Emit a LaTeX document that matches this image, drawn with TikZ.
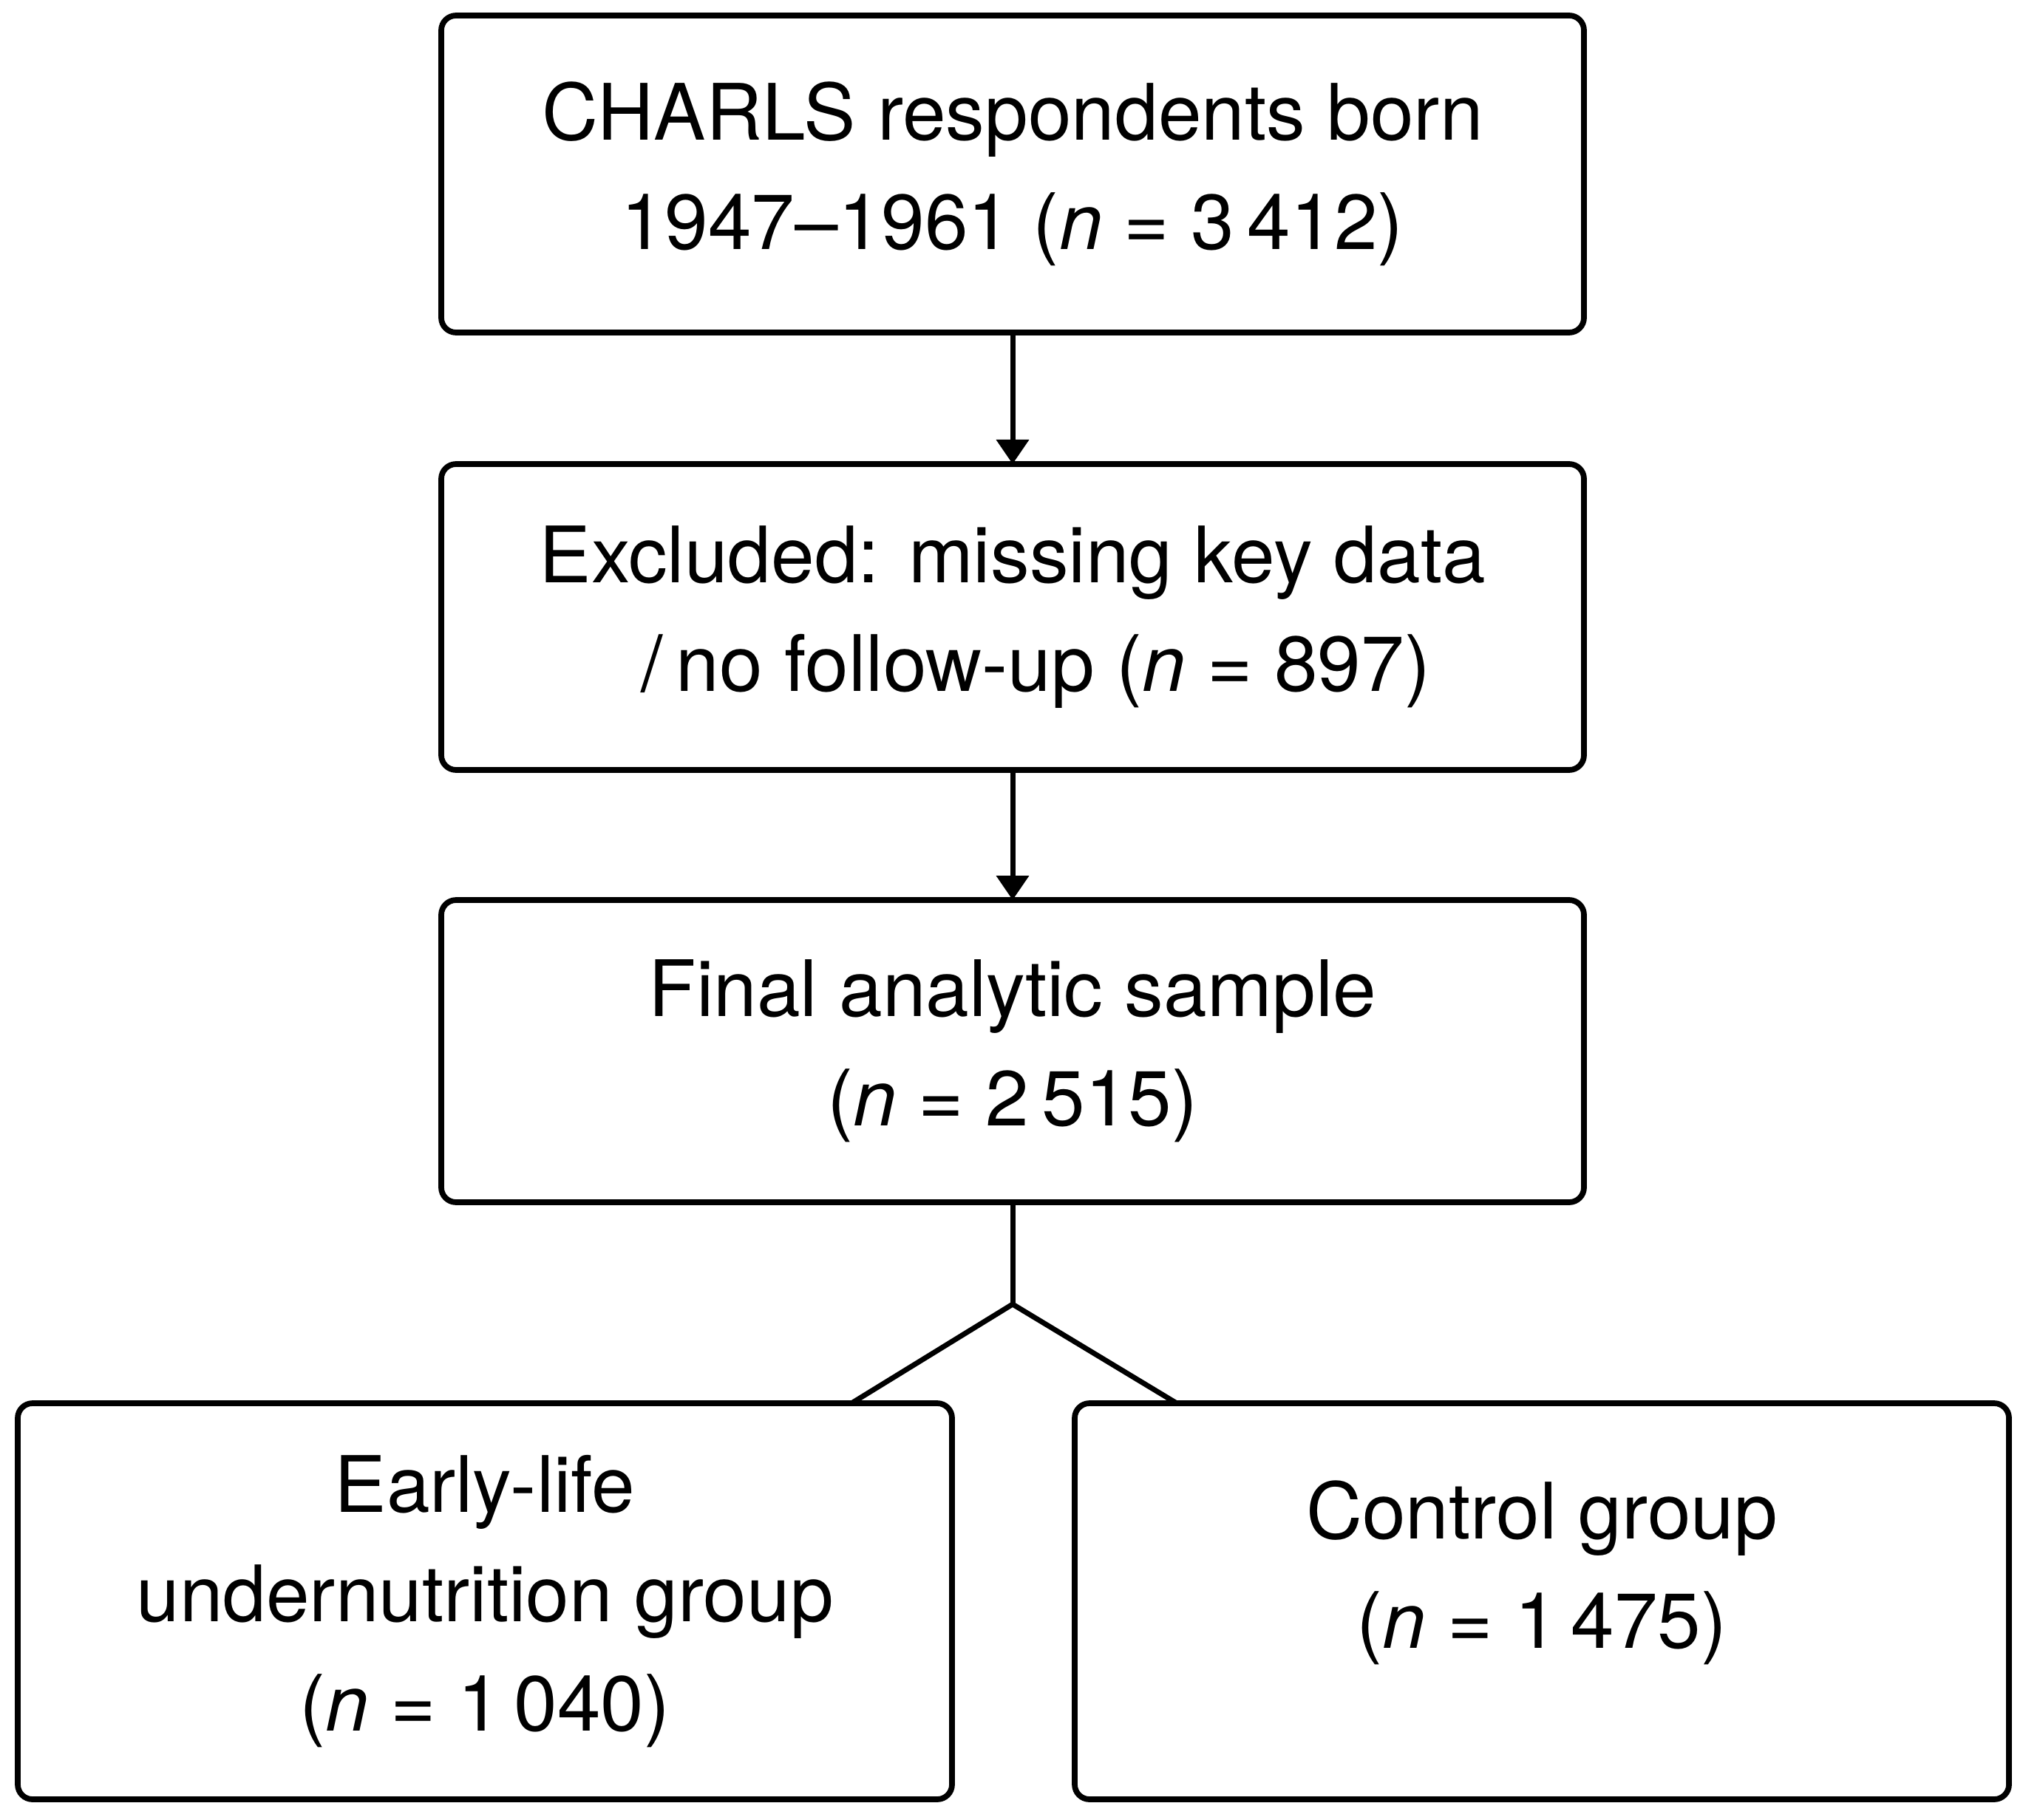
\documentclass[tikz,border=0pt]{standalone}
\usepackage{fontspec}
\setmainfont{TeX Gyre Heros}
\usetikzlibrary{arrows.meta}

\begin{document}
\begin{tikzpicture}[
        box/.style={draw,line width=2.2pt,rounded corners=0.2cm,inner sep=0pt,outer sep=0pt,
            minimum width=15.46cm,align=center,font=\fontsize{30}{42}\selectfont},
        smallbox/.style={box,minimum width=12.64cm,minimum height=5.36cm},
        arr/.style={line width=2pt,-{Triangle[width=0.43cm,length=0.33cm]}},
        link/.style={line width=2pt,line join=round}]
        \useasboundingbox (0,0) rectangle (27.37,-24.63);
        \node[box,minimum height=4.29cm] (charls) at (13.70,-2.355) {CHARLS respondents born\\1947--1961 (\textit{n} = 3\,412)};
        \node[box,minimum height=4.14cm] (excl) at (13.70,-8.35) {Excluded: missing key data\\\hspace*{0.6em}/\,no follow-up (\textit{n} = 897)};
        \node[box,minimum height=4.09cm] (final) at (13.70,-14.225) {Final analytic sample\\(\textit{n} = 2\,515)};
        \node[smallbox] (early) at (6.56,-21.67) {Early-life\\undernutrition group\\(\textit{n} = 1\,040)};
        \node[smallbox,text depth=1cm] (ctrl) at (20.86,-21.67) {Control group\\(\textit{n} = 1\,475)};
        \coordinate (fork) at (13.70,-17.65);
        \draw[arr] (charls) -- (excl);
        \draw[arr] (excl) -- (final);
        \draw[link] (final.south) -- (fork);
        \draw[link] ([xshift=-1.36cm]early.north east) -- (fork) -- ([xshift=1.38cm]ctrl.north west);
    \end{tikzpicture}
\end{document}
